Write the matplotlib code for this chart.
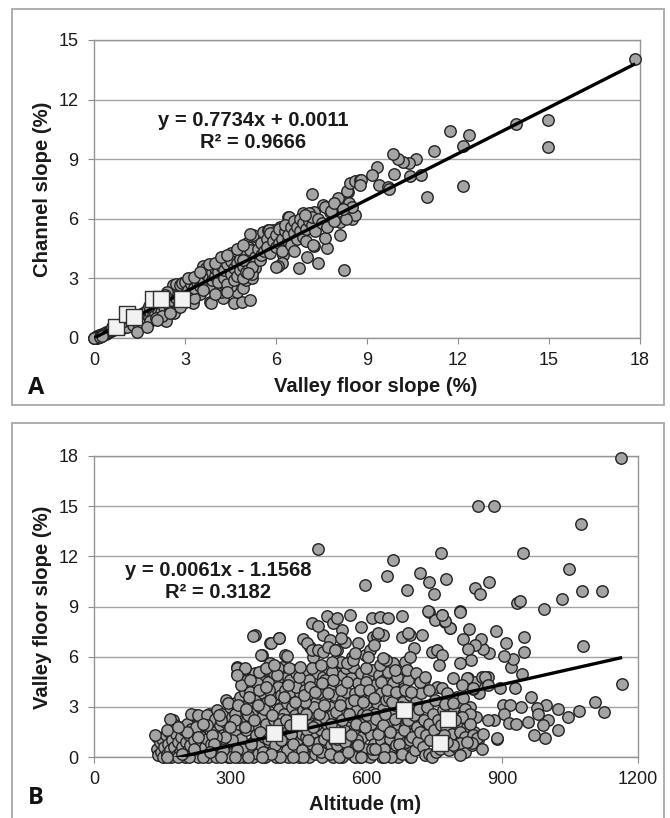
import matplotlib
matplotlib.use("Agg")
import matplotlib.pyplot as plt
from matplotlib.patches import Rectangle
import numpy as np

plt.rcParams['font.family'] = ['Liberation Sans', 'DejaVu Sans']

# ---------------- Panel A data: (valley floor slope %, channel slope %) ----------------
a_origin = [(0.00,0.00),(0.02,0.01),(0.04,0.02),(0.05,0.04),(0.07,0.03),(0.08,0.06),(0.10,0.05),(0.11,0.08),
            (0.13,0.07),(0.15,0.10),(0.17,0.09),(0.18,0.13),(0.20,0.11),(0.22,0.15),(0.24,0.13),(0.26,0.18),
            (0.28,0.16),(0.30,0.21),(0.33,0.19),(0.35,0.24),(0.38,0.22),(0.40,0.28),(0.43,0.26),(0.46,0.32),
            (0.50,0.30),(0.53,0.37),(0.56,0.34),(0.60,0.42),(0.64,0.39),(0.68,0.48),(0.72,0.44),(0.76,0.54),
            (0.80,0.50),(0.85,0.60),(0.90,0.56),(0.95,0.68),(1.00,0.62),(1.05,0.76),(1.10,0.70),(1.15,0.84),
            (1.20,0.76),(1.25,0.93),(1.30,0.85),(1.36,1.00),(1.42,0.92),(1.48,1.08),(0.90,0.45),(1.10,0.55),
            (1.30,0.64),(1.45,0.75),(1.60,0.70),(1.70,0.85),(0.60,0.55),(1.00,0.85),(1.20,1.05),(0.03,0.00),
            (0.06,0.01),(0.09,0.02),(0.12,0.04),(0.16,0.05),(0.01,0.02),(0.19,0.07),(0.25,0.10)]
a_low = [(1.50,1.15),(1.55,0.95),(1.60,1.25),(1.65,1.05),(1.70,1.20),(1.75,1.40),(1.80,1.05),(1.85,1.30),
         (1.90,1.50),(1.95,1.15),(2.00,1.20),(2.05,1.60),(2.10,1.40),(2.15,1.75),(2.20,1.30),(2.25,1.90),
         (2.30,1.55),(2.37,0.88),(2.40,1.75),(2.45,2.10),(2.50,1.50),(2.55,1.90),(2.60,2.20),(2.65,1.25),
         (2.70,2.00),(2.75,2.35),(2.80,1.70),(2.85,2.60),(2.90,2.20),(2.95,2.50),(3.00,1.80),(2.60,2.65),
         (2.70,2.70),(2.40,2.30),(2.20,2.00),(2.00,1.85),(1.80,1.60),(1.85,0.85),(2.05,1.00),(2.25,1.10),
         (2.50,1.30),(2.84,1.58),(2.51,1.24),(2.07,0.90),(1.74,0.57),(1.41,0.32),(2.84,2.67),(3.05,2.30),
         (2.90,2.75),(3.00,2.80),(2.35,2.15),(2.15,1.95)]
a_mid = [(3.17,2.92),(3.40,3.10),(3.66,3.59),(3.90,3.55),(4.20,3.90),(4.40,4.00),(4.60,4.26),(4.80,4.40),
         (5.03,4.77),(5.25,5.18),(5.20,4.60),(4.50,4.30),(4.60,4.10),(4.30,4.00),(5.00,4.50),(3.60,3.60),
         (3.70,3.50),(3.27,1.74),(3.82,1.83),(4.26,2.00),(4.60,1.74),(4.87,1.83),(5.14,1.91),(4.70,2.30),
         (4.90,2.50),(5.00,2.90),(5.10,3.30),(5.20,3.00),(4.50,2.60),(4.20,2.30),(4.00,2.50),(3.80,2.60),
         (3.50,2.20),(3.30,2.00),(3.10,2.40),(3.20,2.70),(3.30,2.50),(3.40,2.80),(3.50,2.60),(3.50,3.00),
         (3.60,2.90),(3.70,3.20),(3.80,3.00),(3.90,2.90),(3.90,3.30),(4.00,3.10),(4.00,3.50),(4.10,2.80),
         (4.10,3.30),(4.20,3.60),(4.30,3.00),(4.30,3.40),(4.40,2.70),(4.40,3.70),(4.50,3.20),(4.50,3.90),
         (4.60,2.90),(4.60,3.50),(4.70,3.80),(4.70,3.10),(4.80,3.40),(4.80,4.00),(4.90,3.00),(4.90,3.60),
         (5.00,3.90),(5.00,3.30),(5.10,4.20),(5.10,3.60),(5.20,4.00),(5.30,4.30),(5.30,3.50),(5.20,3.20),
         (5.09,4.60),(4.87,4.43),(5.14,4.43),(5.31,4.09),(4.92,3.93),(5.20,3.59),(5.09,3.26),(3.85,1.75),
         (3.10,3.00),(3.30,3.05),(3.50,3.30),(3.80,3.70),(4.00,3.80),(4.20,4.10),(4.40,4.20),(4.70,4.50),
         (4.90,4.70),(3.60,2.40),(4.00,2.20),(4.40,2.30)]
a_band = [(5.47,3.93),(5.58,5.35),(5.75,5.43),(5.91,5.43),(6.13,5.60),(6.41,6.10),(6.24,4.18),(6.20,3.77),
          (6.07,3.62),(5.99,3.59),(5.14,5.23),(5.78,5.43),(6.06,4.93),(6.43,6.10),(6.77,5.60),(6.90,6.27),
          (7.26,6.36),(6.77,3.52),(7.02,4.07),(7.40,3.76),(7.26,4.63),(7.18,7.23),(5.40,4.50),(5.50,4.20),
          (5.50,4.80),(5.60,4.40),(5.70,5.00),(5.70,4.60),(5.80,4.30),(5.80,5.30),(5.90,4.90),(6.00,4.60),
          (6.00,5.20),(6.10,5.50),(6.10,4.80),(6.20,5.00),(6.20,4.40),(6.30,5.40),(6.30,5.70),(6.40,4.90),
          (6.40,5.20),(6.50,5.60),(6.50,4.70),(6.60,5.30),(6.60,5.90),(6.70,5.00),(6.70,5.60),(6.80,6.00),
          (6.80,5.40),(6.90,5.10),(6.90,5.80),(7.00,6.20),(7.00,5.50),(7.10,5.90),(7.10,6.30),(7.20,5.70),
          (7.20,6.10),(7.30,5.40),(7.40,6.00),(7.50,5.80),(7.00,4.90),(6.60,4.40),(6.95,6.20),(7.22,4.68),
          (7.67,4.53),(7.60,5.03),(7.67,5.60),(7.55,6.70),(7.78,6.36),(7.95,6.60)]
a_high = [(7.61,6.61),(8.03,6.69),(8.10,5.18),(8.10,5.85),(8.17,6.95),(8.38,7.36),(8.24,3.42),(8.52,6.19),
          (8.05,7.05),(8.33,7.38),(8.33,6.19),(8.44,7.80),(8.60,7.90),(8.77,7.95),(8.40,6.80),(8.50,6.00),
          (8.60,6.20),(7.90,5.90),(8.30,6.00),(8.50,6.60),(7.80,6.40),(7.90,6.80),(8.20,6.50)]
a_out = [(17.84,14.04),(13.90,10.77),(14.98,10.97),(14.96,9.60),(11.74,10.42),(12.35,10.22),(12.17,9.66),
         (11.21,9.43),(12.17,7.65),(10.97,7.12),(10.79,8.22),(10.42,8.13),(10.62,9.00),(10.39,8.82),
         (10.19,8.88),(10.02,9.00),(9.86,9.26),(9.90,8.25),(9.32,8.63),(9.15,8.20),(9.40,7.70),(9.70,7.61),
         (9.72,7.50),(8.80,7.95),(8.77,7.70)]
a_sq_x = [0.71, 1.08, 1.31, 1.93, 2.21, 2.89]
a_sq_y = [0.57, 1.19, 1.07, 1.96, 1.96, 1.96]
a_fit = (0.7734, 0.0011)
a_eq = ["y = 0.7734x + 0.0011", "R² = 0.9666"]

# ---------------- Panel B data: (altitude m, valley floor slope %) ----------------
b_west = [(138,1.2),(140,0.5),(142,0.1),(145,0.9),(148,0.3),(150,1.1),(152,0.0),(155,0.6),(158,1.3),(160,0.2),
          (163,0.8),(165,1.5),(168,0.4),(170,0.0),(172,1.0),(175,2.2),(177,0.6),(180,1.4),(182,0.1),(185,0.9),
          (188,1.8),(190,0.3),(192,1.2),(195,0.6),(198,1.6),(200,0.0),(202,0.9),(205,2.0),(207,0.4),(210,1.3),
          (212,0.7),(215,1.7),(218,0.2),(220,1.0),(222,2.5),(225,0.5),(228,1.5),(230,0.0),(232,2.1),(235,0.8),
          (238,1.2),(240,0.3),(242,1.9),(245,0.6),(248,2.4),(250,1.1),(252,0.0),(255,1.6),(258,0.8),(260,2.2),
          (185,0.0),(210,0.0),(240,0.0),(160,0.0),(225,1.8),(205,1.5),(195,0.2),(178,1.9),(253,2.6),(135,1.3),
          (168,2.3),(160,1.6),(186,1.8),(214,2.6),(230,2.5),(249,2.5)]
b_mid1 = [(262,0.4),(265,1.5),(268,2.3),(270,0.0),(272,2.8),(275,1.0),(278,1.9),(280,0.2),(283,2.6),(285,1.3),
          (288,0.6),(290,2.1),(292,3.4),(295,0.0),(297,1.7),(300,3.0),(302,0.9),(305,2.4),(308,0.3),(310,1.4),
          (312,3.2),(315,5.4),(316,4.96),(318,0.7),(320,2.0),(322,3.6),(325,1.1),(328,2.8),(330,0.0),(332,3.9),
          (334,5.26),(335,1.6),(337,4.6),(338,2.3),(340,0.5),(342,3.3),(345,1.9),(348,4.2),(350,0.9),(352,2.7),
          (355,5.0),(355,3.5),(358,1.3),(360,4.3),(300,0.0),(320,0.0),(350,0.0),(285,0.4),(310,2.6),(330,3.0),
          (345,3.9),(340,2.5),(325,4.3),(296,3.2),(315,5.3),(333,5.3),(316,4.9)]
b_mid2 = [(355,7.3),(370,6.1),(388,6.8),(408,7.13),(388,5.64),(421,6.1),(440,5.2),(425,4.8),(403,4.6),(373,4.6),
          (359,4.4),(362,0.2),(364,1.8),(366,3.0),(368,0.7),(370,2.4),(372,3.8),(374,1.2),(376,5.2),(378,0.0),
          (380,2.0),(382,3.3),(384,4.5),(386,0.9),(388,2.7),(390,1.5),(392,3.9),(394,0.4),(396,5.0),(398,2.2),
          (400,3.5),(402,0.0),(404,1.6),(406,4.2),(408,2.9),(410,0.8),(412,3.7),(414,5.4),(416,1.9),(418,0.3),
          (420,2.6),(422,4.0),(424,1.2),(426,3.2),(428,0.0),(430,2.2),(432,4.6),(434,0.6),(436,3.0),(438,1.7),
          (440,3.9),(442,0.2),(444,2.5),(446,5.0),(448,1.0),(450,3.4),(452,0.0),(454,2.0),(456,4.3),(458,1.4),
          (460,2.8),(375,2.9),(395,1.0),(415,2.3),(435,1.4),(455,3.8),(385,4.0),(405,5.3),(425,0.4),(445,4.2),
          (365,4.0),(351,7.24),(390,6.8),(409,7.1),(368,6.08),(425,6.04),(460,7.04),(476,6.6),(484,6.0)]
b_mid3 = [(462,0.5),(464,2.3),(466,4.0),(468,1.2),(470,3.1),(472,5.1),(474,0.0),(476,1.9),(478,3.6),(480,0.8),
          (482,2.7),(484,4.5),(486,1.5),(488,0.2),(490,3.3),(492,5.0),(494,2.1),(496,0.9),(498,4.0),(500,1.6),
          (502,2.9),(504,0.0),(506,4.8),(508,1.1),(510,3.5),(512,2.3),(514,0.4),(516,5.3),(518,1.8),(520,3.0),
          (522,0.7),(524,4.2),(526,2.5),(528,0.0),(530,3.7),(532,1.3),(534,5.0),(536,2.0),(538,0.3),(540,4.4),
          (542,2.8),(544,1.0),(546,3.4),(548,0.0),(550,4.9),(552,1.6),(554,2.6),(556,3.9),(558,0.6),(560,2.2),
          (470,1.6),(485,3.0),(500,0.3),(515,2.0),(530,1.0),(545,4.0),(475,4.6),(495,3.8),(525,5.1),(555,5.3),
          (465,3.3),(505,2.4),(535,0.7),(510,4.6),(490,1.9)]
b_mid4 = [(562,1.0),(564,3.2),(566,4.7),(568,0.2),(570,2.4),(572,5.4),(574,1.5),(576,3.8),(578,0.6),(580,2.9),
          (582,4.4),(584,1.9),(586,0.0),(588,3.5),(590,5.0),(592,1.2),(594,2.6),(596,4.1),(598,0.5),(600,3.1),
          (602,1.7),(604,4.8),(606,2.2),(608,0.0),(610,3.6),(612,1.3),(614,5.2),(616,2.7),(618,0.8),(620,4.3),
          (622,1.9),(624,3.2),(626,0.3),(628,4.9),(630,2.4),(632,1.0),(634,3.8),(636,0.0),(638,2.9),(640,4.6),
          (642,1.6),(644,3.4),(646,0.6),(648,5.1),(650,2.2),(652,1.1),(654,3.9),(656,0.2),(658,2.7),(660,4.4),
          (662,1.5),(664,3.1),(666,0.7),(668,4.8),(670,2.0),(672,3.6),(674,1.2),(676,5.3),(678,2.5),(680,0.4),
          (682,3.3),(684,4.1),(686,1.8),(688,0.9),(690,2.9),(692,4.6),(694,1.4),(696,3.7),(698,0.0),(700,2.3),
          (580,1.0),(610,2.0),(640,0.5),(670,0.0),(600,4.5),(630,5.5),(660,5.6),(590,2.0),(620,2.6),(650,3.5),
          (685,5.7),(655,0.0),(575,0.0),(615,0.2)]
b_fill = [(305,1.0),(312,2.2),(318,3.1),(326,0.5),(333,1.8),(341,3.6),(347,0.8),(353,2.2),(361,3.1),(367,1.5),
          (373,0.3),(379,4.2),(383,1.1),(389,3.4),(393,2.5),(399,0.7),(403,4.9),(407,2.0),(413,1.0),(419,3.6),
          (423,2.2),(429,4.3),(433,1.9),(439,0.8),(443,3.3),(449,2.3),(453,4.8),(459,0.4),(463,3.7),(467,2.6),
          (473,1.0),(477,4.2),(483,1.8),(487,3.9),(493,0.5),(497,2.6),(503,4.4),(507,3.1),(513,1.4),(517,3.8),
          (523,2.0),(527,4.6),(533,2.7),(537,1.1),(543,3.1),(547,2.2),(553,0.9),(557,4.5),(563,2.6),(567,1.3),
          (573,3.4),(577,2.0),(583,0.7),(587,4.0),(593,3.3),(597,1.8),(603,2.5),(607,4.0),(613,0.5),(617,3.5),
          (623,2.3),(627,1.4),(633,4.5),(637,1.9),(643,2.6),(647,4.0),(653,1.5),(657,3.3),(663,2.3),(667,3.9),
          (673,0.8),(677,3.0),(683,1.6),(687,4.0),(693,2.2),(697,1.0),(290,1.2),(280,2.2),(270,1.2),(260,1.3),
          (250,1.9),(240,2.0),(230,1.2),(220,0.5),(275,2.5),(265,0.8),(300,1.8),(315,0.4),(335,2.9),(345,4.6),
          (363,5.1),(380,5.3),(397,5.5),(430,5.3),(455,5.4),(480,5.3),(500,5.5),(545,5.7),(570,6.0),(600,5.3),
          (645,5.8),(665,5.2),(690,5.2),(520,0.2),(540,0.0),(560,0.3),(590,0.0),(620,0.5),(640,0.0),(680,0.2),
          (700,0.0),(460,0.0),(440,0.0),(410,0.0),(390,0.2),(370,0.0),(340,0.0),(310,0.0),(280,0.0),(255,0.3)]
b_sparse = [(469,6.8),(480,6.4),(495,6.4),(506,6.3),(535,6.4),(554,6.9),(506,7.3),(521,7.0),(546,7.6),(480,8.0),
            (495,7.83),(513,8.43),(528,8.03),(535,8.3),(524,5.7),(557,5.6),(517,6.6),(532,6.4),(544,7.1),
            (572,5.8),(598,6.1),(616,7.2),(613,8.29),(631,8.39),(649,8.29),(680,8.43),(624,7.23),(638,7.29),
            (679,7.2),(697,7.3),(723,7.3),(565,8.49),(589,7.75),(583,6.8),(609,6.4),(618,6.7),(576,6.2),(605,6.0),
            (638,5.9),(705,6.5),(697,6.0),(745,6.3),(756,6.4),(767,6.1),(760,5.5),(727,4.6),(756,4.2),(738,8.69),
            (767,8.49),(752,8.19),(774,8.1),(785,7.7),(627,7.4),(693,7.4)]
b_east = [(702,1.2),(705,2.5),(708,0.4),(710,3.3),(712,1.8),(715,0.9),(718,2.9),(720,1.5),(722,3.8),(725,0.6),
          (728,2.2),(730,0.1),(732,1.3),(735,3.0),(738,0.2),(740,2.0),(742,1.0),(745,0.0),(748,2.6),(750,1.6),
          (752,3.4),(755,0.3),(758,2.2),(760,1.1),(763,0.5),(766,1.9),(770,2.8),(773,0.9),(776,1.6),(780,3.2),
          (783,0.4),(786,2.3),(790,1.4),(794,2.9),(798,0.6),(802,2.0),(806,3.3),(810,1.0),(814,2.6),(818,0.3),
          (822,1.8),(826,2.2),(830,3.0),(834,0.7),(838,1.5),(842,2.4),(846,1.0),(850,3.8),(855,0.5),(710,5.0),
          (720,4.5),(730,4.8),(700,3.9),(740,4.0)]
b_far = [(1163,17.9),(846,15.0),(883,15.0),(1074,13.95),(495,12.42),(660,11.78),(765,12.22),(947,12.22),
         (719,11.0),(738,10.48),(776,10.66),(646,10.84),(597,10.26),(749,9.72),(691,9.98),(840,10.08),(851,9.75),
         (872,10.44),(737,8.73),(808,8.73),(1048,11.24),(1076,9.94),(1121,9.94),(1032,9.45),(993,8.83),
         (932,9.19),(939,9.35),(1079,6.66),(1165,4.35),(1105,3.27),(1126,2.67),(1070,2.77),(1045,2.41),
         (1023,2.85),(1024,1.61),(1001,2.21),(997,3.11),(977,2.91),(964,3.57),(980,2.6),(957,2.11),(991,1.91),
         (995,1.15),(971,1.31),(943,3.0),(929,4.14),(896,4.14),(945,4.96),(920,5.36),(925,5.84),(905,6.04),
         (949,6.25),(949,7.18),(908,6.8),(887,7.55),(872,6.2),(859,6.43),(853,7.03),(840,6.7),(828,7.65),
         (831,5.8),(813,7.03),(824,6.43),(807,8.69),(785,7.73),(774,8.13),(767,8.49),(903,3.11),(918,3.11),
         (904,2.55),(882,2.21),(870,2.21),(916,2.01),(931,1.97),(888,1.08),(870,4.8),(859,4.74),(853,4.41),
         (826,4.7),(840,4.5),(835,4.07),(793,4.7),(807,5.6),(822,4.7),(811,4.3),(837,4.1),(855,4.77),(863,4.8),
         (870,4.3),(767,4.1),(778,3.8),(800,3.6),(815,3.5),(774,3.15),(793,3.2),(818,2.9),(830,2.6),(811,2.4),
         (796,2.2),(830,2.0),(807,1.5),(818,1.2),(807,0.86),(793,0.72),(778,0.92),(771,1.32),(837,1.32),
         (844,1.12),(859,1.36),(888,1.12),(833,0.82),(822,0.92),(807,0.12)]
b_sq_x = [396, 452, 535, 683, 780, 763]
b_sq_y = [1.42, 2.11, 1.32, 2.84, 2.27, 0.82]
b_fit = (0.0061, -1.1568)
b_eq = ["y = 0.0061x - 1.1568", "R² = 0.3182"]

# ---------------- figure ----------------
W, H = 670, 818
fig = plt.figure(figsize=(W / 100, H / 100), dpi=100)

def fx(px):
    return px / W

def fy(py):
    return 1 - py / H

GRID = '#a3a3a3'
SPINE = '#959595'
CIRC_FC = '#a4a4a4'
CIRC_EC = '#222222'

# panel frames
fig.patches.append(Rectangle((fx(12), fy(405)), fx(664) - fx(12), fy(9) - fy(405),
                             transform=fig.transFigure, fill=False, ec='#a8a8a8', lw=1.3))
fig.patches.append(Rectangle((fx(12), fy(840)), fx(664) - fx(12), fy(423) - fy(840),
                             transform=fig.transFigure, fill=False, ec='#a8a8a8', lw=1.3))

axA = fig.add_axes([fx(94), fy(338), fx(640) - fx(94), fy(40) - fy(338)])
axB = fig.add_axes([fx(94), fy(757), fx(638) - fx(94), fy(456) - fy(757)])


def style(ax):
    for s in ax.spines.values():
        s.set_color(SPINE)
        s.set_linewidth(1.0)
    ax.grid(axis='y', color=GRID, lw=1.0)
    ax.grid(axis='x', visible=False)
    ax.set_axisbelow(True)
    ax.tick_params(direction='out', length=4, width=0.8, color='#8c8c8c',
                   labelsize=13, labelcolor='#1a1a1a')
    ax.tick_params(axis='x', pad=6)
    ax.tick_params(axis='y', pad=7)


def scatter_groups(ax, groups):
    for g in groups:
        xs = [p[0] for p in g]
        ys = [p[1] for p in g]
        ax.scatter(xs, ys, s=68, c=CIRC_FC, edgecolors=CIRC_EC, linewidths=1.0,
                   zorder=3, clip_on=False)


# Panel A
style(axA)
a_groups = [a_origin, a_low, a_mid, a_band, a_high, a_out]
scatter_groups(axA, a_groups)
a_allx = [p[0] for g in a_groups for p in g]
xa = np.array([min(a_allx), max(a_allx)])
axA.plot(xa, a_fit[0] * xa + a_fit[1], color='black', lw=2.4, zorder=4, solid_capstyle='butt')
axA.scatter(a_sq_x, a_sq_y, marker='s', s=140, c='#f2f2f2', edgecolors='#303030',
            linewidths=1.0, zorder=5, clip_on=False)
axA.set_xlim(0, 18)
axA.set_ylim(0, 15)
axA.set_xticks(range(0, 19, 3))
axA.set_yticks(range(0, 16, 3))

# Panel B
style(axB)
b_groups = [b_west, b_mid1, b_mid2, b_mid3, b_mid4, b_fill, b_sparse, b_east, b_far]
scatter_groups(axB, b_groups)
b_allx = [p[0] for g in b_groups for p in g]
xb = np.array([min(b_allx), max(b_allx)])
axB.plot(xb, b_fit[0] * xb + b_fit[1], color='black', lw=2.4, zorder=4, solid_capstyle='butt')
axB.scatter(b_sq_x, b_sq_y, marker='s', s=140, c='#f2f2f2', edgecolors='#303030',
            linewidths=1.0, zorder=5, clip_on=False)
axB.set_xlim(0, 1200)
axB.set_ylim(0, 18)
axB.set_xticks(range(0, 1201, 300))
axB.set_yticks(range(0, 19, 3))

# texts
bold = dict(fontweight='bold', color='#1a1a1a')
fig.text(fx(43), fy(189), 'Channel slope (%)', rotation=90, ha='center', va='center', fontsize=14.6, **bold)
fig.text(fx(376), fy(387), 'Valley floor slope (%)', ha='center', va='center', fontsize=14.6, **bold)
fig.text(fx(253), fy(120), a_eq[0], ha='center', va='center', fontsize=14.5, **bold)
fig.text(fx(253), fy(143), a_eq[1], ha='center', va='center', fontsize=14.5, **bold)
fig.text(fx(36), fy(388), 'A', ha='center', va='center', fontsize=17,
         fontweight='bold', family=['Open Sans', 'DejaVu Sans'], color='#111111')

fig.text(fx(43), fy(607), 'Valley floor slope (%)', rotation=90, ha='center', va='center', fontsize=14.6, **bold)
fig.text(fx(365), fy(805), 'Altitude (m)', ha='center', va='center', fontsize=14.6, **bold)
fig.text(fx(218), fy(570), b_eq[0], ha='center', va='center', fontsize=14.5, **bold)
fig.text(fx(218), fy(593), b_eq[1], ha='center', va='center', fontsize=14.5, **bold)
fig.text(fx(36), fy(798), 'B', ha='center', va='center', fontsize=17,
         fontweight='bold', family=['Open Sans', 'DejaVu Sans'], color='#111111')

fig.savefig('out.png', dpi=100)
